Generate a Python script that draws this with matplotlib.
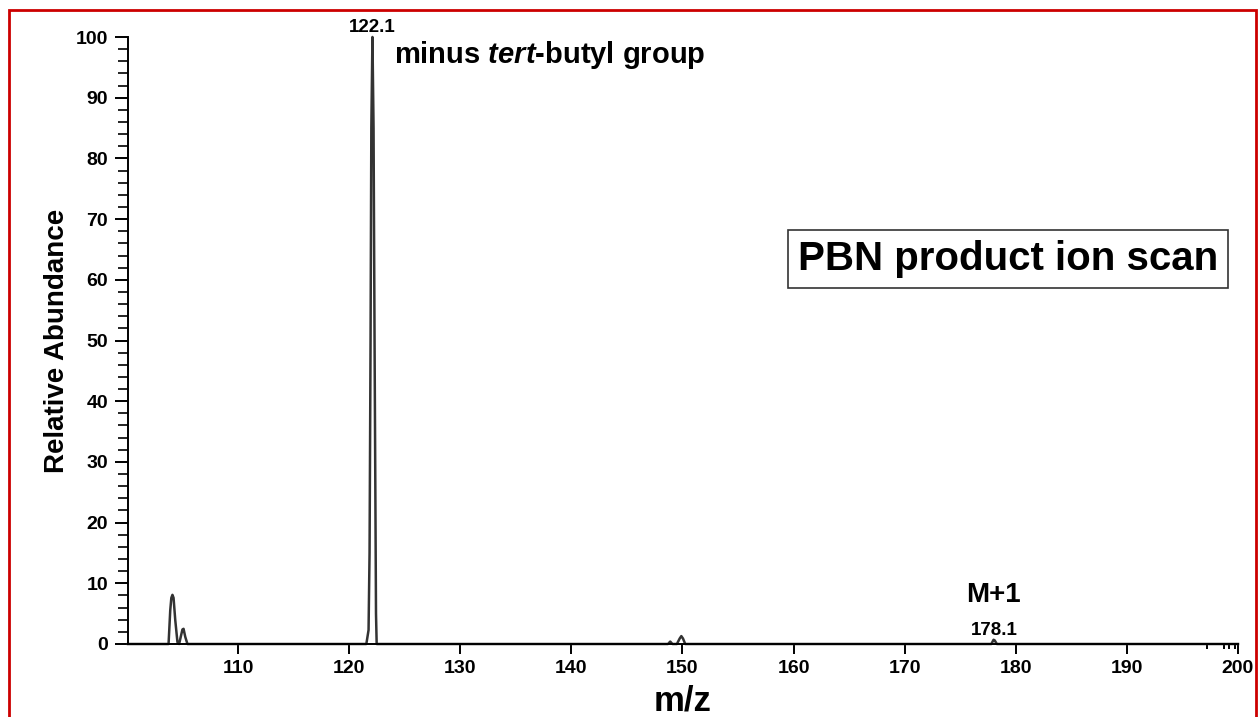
import matplotlib
matplotlib.use('Agg')
import matplotlib.pyplot as plt
from matplotlib.patches import Rectangle
from matplotlib.ticker import MultipleLocator, FixedLocator

plt.rcParams['font.family'] = ['Liberation Sans', 'DejaVu Sans']
plt.rcParams['font.weight'] = 'bold'
plt.rcParams['mathtext.fontset'] = 'custom'
plt.rcParams['mathtext.bfit'] = 'Liberation Sans:bold:italic'

# profil spektra, tochki snyaty s kartinki (m/z, otnositelnaya intensivnost)
mz = [100.1, 103.75, 103.9, 104.0, 104.1, 104.2, 104.35, 104.55, 104.7,
      104.85, 105.0, 105.1, 105.25, 105.45,
      121.55, 121.75, 121.84, 121.93, 122.0, 122.1, 122.2, 122.29, 122.42, 122.48,
      148.7, 148.9, 149.1, 149.5, 149.75, 149.9, 150.05, 150.25,
      177.8, 178.0, 178.1, 178.3, 200.0]
ab = [0, 0, 5.5, 7.6, 8.1, 7.6, 4.0, 0.3, 0,
      1.2, 2.4, 2.5, 1.2, 0,
      0, 2.3, 15, 50, 85, 100, 85, 50, 5, 0,
      0, 0.4, 0, 0, 0.9, 1.3, 0.9, 0,
      0, 0.7, 0.6, 0, 0]

peak_labels = ['122.1', '178.1']
peak_mz = [122.1, 178.1]
peak_ab = [100, 0.7]

odd_ticks = [197.2, 198.7, 199.2, 199.7]  # melkie shtrihi u 200

fig = plt.figure(figsize=(12.59, 7.17), dpi=100)
ax = fig.add_axes([128/1259, 1 - 644/717, (1238-128)/1259, (644-37)/717])

ax.plot(mz, ab, color='#333333', linewidth=1.8, clip_on=False)
ax.set_xlim(100.1, 200)
ax.set_ylim(0, 100)

ax.spines['top'].set_visible(False)
ax.spines['right'].set_visible(False)
ax.spines['left'].set_linewidth(1.4)
ax.spines['bottom'].set_linewidth(1.4)

# dliny shtrihov v punktah (1 pt = 1.39 px pri dpi 100)
ax.xaxis.set_major_locator(FixedLocator([110, 120, 130, 140, 150, 160, 170, 180, 190, 200]))
ax.xaxis.set_minor_locator(FixedLocator(odd_ticks))
ax.yaxis.set_major_locator(MultipleLocator(10))
ax.yaxis.set_minor_locator(MultipleLocator(2))
ax.tick_params(axis='x', which='major', direction='out', length=7.2, width=1.4, pad=4, labelsize=14)
ax.tick_params(axis='x', which='minor', direction='out', length=3.5, width=1.4)
ax.tick_params(axis='y', which='major', direction='out', length=9.4, width=1.4, pad=5, labelsize=14)
ax.tick_params(axis='y', which='minor', direction='out', length=7.2, width=1.2)
for t in ax.get_xticklabels() + ax.get_yticklabels():
    t.set_fontweight('bold')

ax.set_ylabel('Relative Abundance', fontsize=20, fontweight='bold', labelpad=4)
ax.set_xlabel('m/z', fontsize=25, fontweight='bold', labelpad=6)

# podpisi pikov
for lab, x, y in zip(peak_labels, peak_mz, peak_ab):
    ax.annotate(lab, (x, y), xytext=(0, 0.5), textcoords='offset points',
                ha='center', va='bottom', fontsize=13.5, fontweight='bold', annotation_clip=False)

ax.text(124.0, 97.0, r'minus $\mathbfit{tert}$-butyl group', fontsize=21, fontweight='bold',
        ha='left', va='center')
ax.annotate('M+1', (178.0, 0.7), xytext=(0, 23), textcoords='offset points',
            ha='center', va='bottom', fontsize=20, fontweight='bold')

ax.text(0.793, 0.634, 'PBN product ion scan', transform=ax.transAxes, fontsize=29,
        fontweight='bold', ha='center', va='center',
        bbox=dict(boxstyle='square,pad=0.25', facecolor='white', edgecolor='#333333', linewidth=1.2))

# krasnaya ramka
fig.patches.append(Rectangle((9/1259, -0.05), (1256-9)/1259, 1.05 - 10/717, transform=fig.transFigure,
                             fill=False, edgecolor='#cc0000', linewidth=2, clip_on=False))

fig.savefig('out.png', dpi=100)
